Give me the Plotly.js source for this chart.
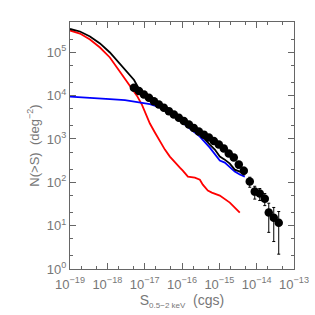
<!DOCTYPE html>
<html>
<head>
<meta charset="utf-8">
<script src="https://cdn.plot.ly/plotly-3.0.1.min.js"></script>
<style>html,body{margin:0;padding:0;background:#fff;}#chart{width:315px;height:315px;}</style>
</head>
<body>
<div id="chart"></div>
<script>
// Red curve (model component 1)
const redS = [1.00e-19, 1.85e-19, 3.43e-19, 6.35e-19, 1.17e-18, 2.18e-18, 4.03e-18, 6.19e-18, 8.43e-18, 1.08e-17, 1.38e-17, 1.88e-17, 2.56e-17, 3.48e-17, 4.73e-17, 6.44e-17, 8.77e-17, 1.05e-16, 1.44e-16, 2.21e-16, 3.01e-16, 3.61e-16, 4.92e-16, 6.30e-16, 1.03e-15, 1.91e-15, 3.53e-15];
const redN = [3.19e5, 2.71e5, 1.98e5, 1.29e5, 7.59e4, 3.61e4, 1.71e4, 1.00e4, 6230, 3660, 2270, 1410, 871, 569, 392, 285, 218, 186, 135, 128, 115, 88.5, 64.4, 57.9, 49.3, 34.0, 20.0];
// Blue curve (model component 2)
const blueS = [1.00e-19, 3.43e-19, 1.17e-18, 2.96e-18, 7.46e-18, 1.38e-17, 2.26e-17, 3.48e-17, 4.73e-17, 8.77e-17, 1.62e-16, 3.01e-16, 5.56e-16, 7.57e-16, 1.03e-15, 1.40e-15, 1.91e-15, 2.59e-15, 3.53e-15, 4.81e-15];
const blueN = [9530, 9040, 8340, 7910, 7110, 6400, 5600, 4780, 4070, 2660, 1830, 1135, 633, 460, 317, 285, 218, 177, 151, 135];
// Black curve (total)
const blackS = [1.00e-19, 1.85e-19, 3.43e-19, 6.35e-19, 1.17e-18, 2.18e-18, 2.96e-18, 4.03e-18, 5.20e-18, 7.46e-18, 1.38e-17, 2.56e-17, 4.73e-17, 8.77e-17, 1.62e-16, 3.01e-16, 5.56e-16, 7.57e-16, 1.03e-15, 1.40e-15, 1.91e-15, 2.59e-15, 3.53e-15, 4.81e-15];
const blackN = [3.45e5, 3.02e5, 2.32e5, 1.60e5, 9.90e4, 5.50e4, 4.00e4, 2.91e4, 2.30e4, 1.31e4, 8570, 6070, 4290, 2880, 1990, 1333, 743, 569, 392, 334, 270, 196, 177, 167];
// Data points with errors
const dotS = [5.15e-18, 7.02e-18, 9.55e-18, 1.30e-17, 1.77e-17, 2.40e-17, 3.27e-17, 4.45e-17, 6.05e-17, 8.24e-17, 1.12e-16, 1.53e-16, 2.07e-16, 2.82e-16, 3.85e-16, 5.24e-16, 7.11e-16, 9.68e-16, 1.32e-15, 1.79e-15, 2.44e-15, 3.32e-15, 4.52e-15, 6.53e-15, 8.89e-15, 1.21e-14, 1.65e-14, 2.11e-14, 2.87e-14, 3.90e-14];
const dotN = [15140, 12770, 10600, 8900, 7460, 6230, 5230, 4390, 3660, 3070, 2590, 2150, 1790, 1480, 1260, 1080, 895, 743, 600, 460, 372, 256, 186, 104, 61, 55, 42, 20, 15.3, 11.7];
const dotErr = [330, 300, 280, 250, 230, 210, 195, 180, 165, 150, 137, 125, 114, 104, 96, 89, 81, 74, 66, 58, 52, 43, 37, 27, 20, 17, 13, 13, 11, 9.5];

const xTickVals = [1e-19, 1e-18, 1e-17, 1e-16, 1e-15, 1e-14, 1e-13];
const xTickText = ['10<sup>−19</sup>', '10<sup>−18</sup>', '10<sup>−17</sup>', '10<sup>−16</sup>', '10<sup>−15</sup>', '10<sup>−14</sup>', '10<sup>−13</sup>'];
const yTickVals = [1, 10, 100, 1000, 1e4, 1e5];
const yTickText = ['10<sup>0</sup>', '10<sup>1</sup>', '10<sup>2</sup>', '10<sup>3</sup>', '10<sup>4</sup>', '10<sup>5</sup>'];

const traces = [
  {x: redS, y: redN, mode: 'lines', line: {color: '#ff0000', width: 1.8}, hoverinfo: 'skip'},
  {x: blueS, y: blueN, mode: 'lines', line: {color: '#0000ff', width: 1.8}, hoverinfo: 'skip'},
  {x: blackS, y: blackN, mode: 'lines', line: {color: '#000000', width: 1.8}, hoverinfo: 'skip'},
  {x: dotS, y: dotN, mode: 'markers', marker: {color: '#000000', size: 8.5},
   error_y: {type: 'data', array: dotErr, visible: true, color: '#000000', thickness: 1, width: 1.5}, hoverinfo: 'skip'}
];

const axisCommon = {
  type: 'log', showgrid: false, zeroline: false, showline: true, linecolor: '#666', linewidth: 1,
  mirror: 'ticks', ticks: 'inside', ticklen: 6, tickcolor: '#666', tickwidth: 1,
  minor: {ticks: 'inside', ticklen: 3, tickcolor: '#666', tickwidth: 1, showgrid: false},
  tickfont: {family: 'Liberation Sans, Arial, sans-serif', size: 13, color: '#777'}
};

const layout = {
  width: 315, height: 315,
  margin: {l: 70, r: 21, t: 22, b: 46},
  paper_bgcolor: '#fff', plot_bgcolor: '#fff',
  showlegend: false,
  xaxis: Object.assign({}, axisCommon, {
    range: [-19, -13], tickvals: xTickVals, ticktext: xTickText, ticklabelstandoff: 3,
    title: {text: 'S<sub><span style="font-size:8px">0.5−2 keV</span></sub>  (cgs)', standoff: 2,
            font: {family: 'Liberation Sans, Arial, sans-serif', size: 14, color: '#777'}}
  }),
  yaxis: Object.assign({}, axisCommon, {
    range: [0, Math.log10(5e5)], tickvals: yTickVals, ticktext: yTickText, ticklabelstandoff: 0,
    title: {text: 'N(&gt;S)  (deg<sup>−2</sup>)', standoff: 4,
            font: {family: 'Liberation Sans, Arial, sans-serif', size: 13, color: '#777'}}
  })
};

Plotly.newPlot('chart', traces, layout, {staticPlot: true, displayModeBar: false});
</script>
</body>
</html>
